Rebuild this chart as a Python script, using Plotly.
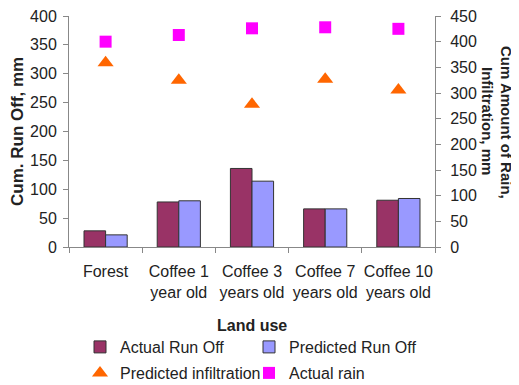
import plotly.graph_objects as go

categories = ["Forest", "Coffee 1<br>year old", "Coffee 3<br>years old", "Coffee 7<br>years old", "Coffee 10<br>years old"]
actual_runoff = [28, 78, 136, 66, 81]
predicted_runoff = [21, 80, 114, 66, 84]
predicted_infiltration = [359, 325, 278, 327, 306]
actual_rain = [400, 413, 426, 428, 425]

left_ticks = [0, 50, 100, 150, 200, 250, 300, 350, 400]
right_ticks = [0, 50, 100, 150, 200, 250, 300, 350, 400, 450]

FONT = "Liberation Sans, Arial, sans-serif"
AXC = "#888888"
FS = 16
W, H = 511, 377  # page body has an 8px margin

fig = go.Figure()
fig.add_trace(go.Bar(x=categories, y=actual_runoff, name="Actual Run Off",
                     marker=dict(color="#993366", line=dict(color="#333333", width=1)),
                     legend="legend"))
fig.add_trace(go.Bar(x=categories, y=predicted_runoff, name="Predicted Run Off",
                     marker=dict(color="#9999FF", line=dict(color="#333333", width=1)),
                     legend="legend2"))
fig.add_trace(go.Scatter(x=categories, y=predicted_infiltration, name="Predicted infiltration",
                         mode="markers", yaxis="y2",
                         marker=dict(symbol="triangle-up", size=14, color="#FF6600"),
                         legend="legend3"))
fig.add_trace(go.Scatter(x=categories, y=actual_rain, name="Actual rain",
                         mode="markers", yaxis="y2",
                         marker=dict(symbol="square", size=12, color="#FF00FF"),
                         legend="legend4"))

def leg(px, py):
    return dict(x=(px - 8) / W, y=1 - (py - 8) / H, xref="container", yref="container",
                xanchor="left", yanchor="middle",
                font=dict(size=FS), itemwidth=30,
                bgcolor="rgba(0,0,0,0)", borderwidth=0)

fig.update_layout(
    width=W, height=H,
    margin=dict(l=61, r=84, t=8, b=138, autoexpand=False),
    paper_bgcolor="white", plot_bgcolor="white",
    font=dict(family=FONT, size=FS, color="#222222"),
    barmode="group", bargap=0.41, bargroupgap=0,
    showlegend=True,
    xaxis=dict(
        showline=True, linecolor=AXC, linewidth=1,
        ticks="outside", tickson="boundaries", ticklen=5, tickcolor=AXC,
        showgrid=False, tickangle=0, ticklabelstandoff=10,
        tickfont=dict(size=FS),
    ),
    yaxis=dict(
        range=[0, 400], tickvals=left_ticks,
        showline=True, linecolor=AXC, linewidth=1,
        ticks="outside", ticklen=5, tickcolor=AXC,
        showgrid=False, zeroline=False, ticklabeloverflow="allow",
        ticklabelstandoff=3,
        tickfont=dict(size=FS),
    ),
    yaxis2=dict(
        range=[0, 450], tickvals=right_ticks, overlaying="y", side="right",
        showline=True, linecolor=AXC, linewidth=1,
        ticks="outside", ticklen=5, tickcolor=AXC,
        showgrid=False, zeroline=False, ticklabeloverflow="allow",
        ticklabelstandoff=6,
        tickfont=dict(size=FS),
    ),
    legend=leg(80, 347),
    legend2=leg(249, 347),
    legend3=leg(80, 373),
    legend4=leg(249, 373),
    annotations=[
        dict(text="<b>Cum Amount of Rain,</b>",
             textangle=90, xref="paper", yref="paper", x=(507 - 69) / 366, y=(247 - 122) / 231,
             xanchor="center", yanchor="middle", showarrow=False,
             font=dict(size=15)),
        dict(text="<b>Infiltration, mm</b>",
             textangle=90, xref="paper", yref="paper", x=(488 - 69) / 366, y=(247 - 121) / 231,
             xanchor="center", yanchor="middle", showarrow=False,
             font=dict(size=15)),
        dict(text="<b>Cum. Run Off, mm</b>",
             textangle=-90, xref="paper", yref="paper", x=(17 - 69) / 366, y=(247 - 132) / 231,
             xanchor="center", yanchor="middle", showarrow=False,
             font=dict(size=17)),
        dict(text="<b>Land use</b>",
             xref="paper", yref="paper", x=0.5, y=1 - (325 - 16) / 231,
             xanchor="center", yanchor="middle", showarrow=False,
             font=dict(size=FS)),
    ],
)

fig.write_html("out.html")
